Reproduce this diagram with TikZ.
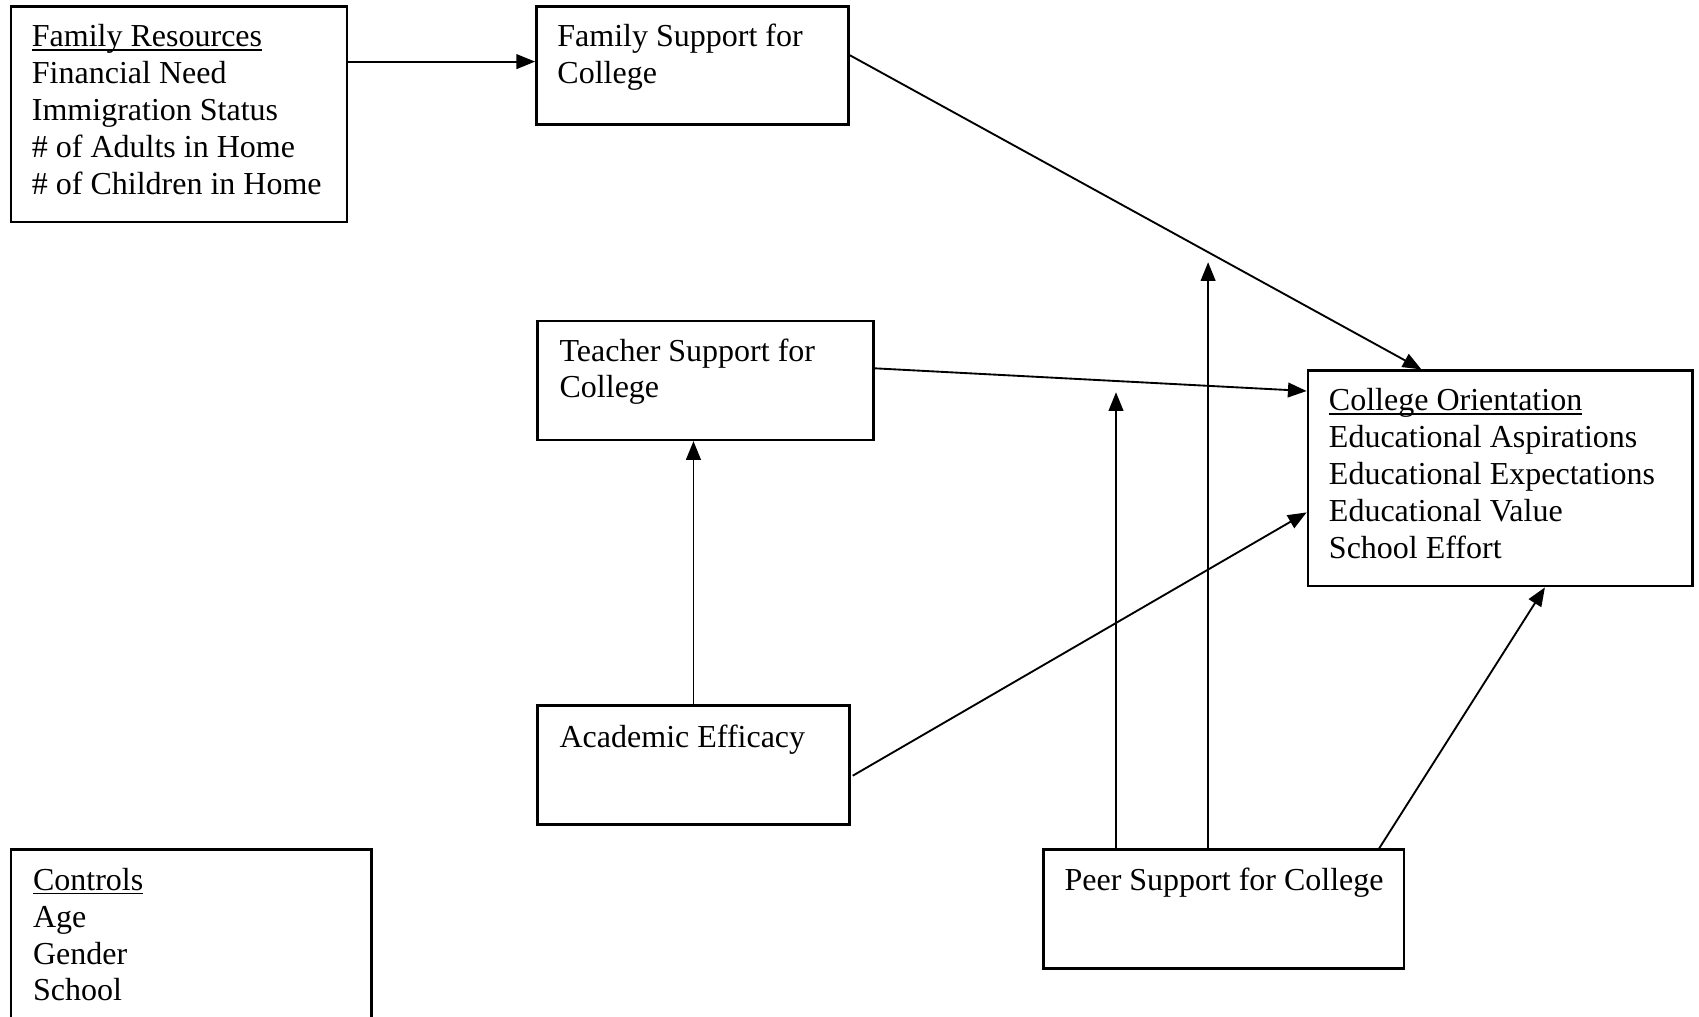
\documentclass[tikz,border=0pt]{standalone}
\usepackage{fontspec}
\setmainfont{Liberation Serif}
\usetikzlibrary{arrows.meta, fit}
\newcommand{\undl}[1]{\setbox0\hbox{#1}\rlap{\rule[-1.4pt]{\wd0}{0.55pt}}\box0}

\begin{document}
\begin{tikzpicture}[x=0.375pt, y=-0.375pt,
  box/.style={draw, line width=0.9pt, inner sep=0pt},
  txt/.style={anchor=base west, align=left, inner sep=0pt, font=\fontsize{12}{13.8}\selectfont},
  arr/.style={-{Triangle[length=7pt,width=5.5pt]}, line width=0.7pt}]
\clip (0,0) rectangle (1699,1016);
% boxes
\node[box, fit={(10.8,6.5) (346.7,222.1)}] (famres) {};
\node[box, fit={(536.3,6.5) (848.4,124.6)}] (famsup) {};
\node[box, fit={(537.4,320.7) (873.3,439.9)}] (teasup) {};
\node[box, fit={(537.4,705.4) (849.5,824.5)}] (acaeff) {};
\node[box, fit={(1043.4,849.5) (1404.2,968.6)}] (peersup) {};
\node[box, fit={(1307.8,370.6) (1692.4,586.2)}] (colori) {};
\node[box, fit={(10.8,849.5) (371.6,1040)}] (controls) {};
% texts (placed at the baseline of the last line)
\node[txt] (famrestxt) at (31.4,194) {\undl{Family Resources}\\Financial Need\\Immigration Status\\\# of Adults in Home\\\# of Children in Home};
\node[txt] (famsuptxt) at (556.9,83.6) {Family Support for\\College};
\node[txt] (teasuptxt) at (559.1,397.8) {Teacher Support for\\College};
\node[txt] (acaefftxt) at (559.1,747.8) {Academic Efficacy};
\node[txt] (peersuptxt) at (1064,890.8) {Peer Support for College};
\node[txt] (coloritxt) at (1328.4,558) {\undl{College Orientation}\\Educational Aspirations\\Educational Expectations\\Educational Value\\School Effort};
\node[txt] (controlstxt) at (32.5,1000.9) {\undl{Controls}\\Age\\Gender\\School};
% paths
\draw[arr] ([shift={(0,56.3)}]famres.north east) coordinate (fr) -- (fr -| famsup.west);
\draw[arr] ([shift={(0,49.8)}]famsup.north east) -- ([shift={(114.8,0)}]colori.north west);
\draw[arr] ([shift={(0,48.8)}]teasup.north east) -- ([shift={(0,21.6)}]colori.north west);
\draw[arr] (acaeff.north) -- (acaeff.north |- teasup.south);
\draw[arr] ([shift={(2,71.5)}]acaeff.north east) -- ([shift={(0,143)}]colori.north west);
\draw[arr] ([shift={(337,0)}]peersup.north west) -- ([shift={(238.3,0)}]colori.south west);
% moderation
\coordinate (modtea) at (1116,392.2);
\coordinate (modfam) at (1208.1,262.2);
\draw[arr] (modtea |- peersup.north) -- (modtea);
\draw[arr] (modfam |- peersup.north) -- (modfam);
\end{tikzpicture}
\end{document}
